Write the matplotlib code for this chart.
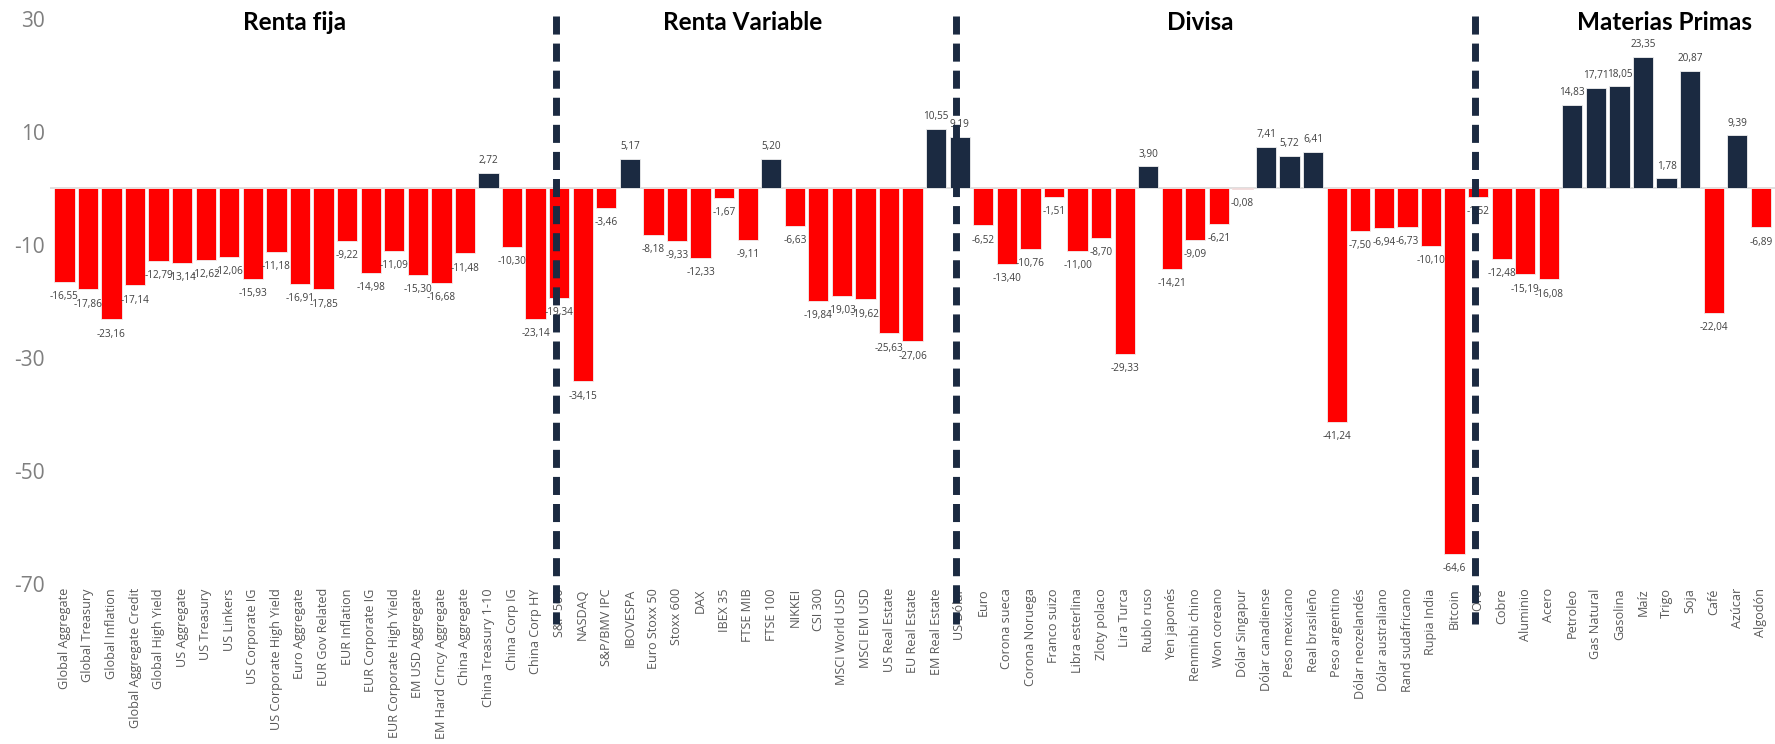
import matplotlib
matplotlib.use("Agg")
import matplotlib.pyplot as plt
import numpy as np

# data, grouped by asset class
renta_fija = ["Global Aggregate", "Global Treasury", "Global Inflation", "Global Aggregate Credit",
              "Global High Yield", "US Aggregate", "US Treasury", "US Linkers", "US Corporate IG",
              "US Corporate High Yield", "Euro Aggregate", "EUR Gov Related", "EUR Inflation",
              "EUR Corporate IG", "EUR Corporate High Yield", "EM USD Aggregate",
              "EM Hard Crncy Aggregate", "China Aggregate", "China Treasury 1-10", "China Corp IG",
              "China Corp HY"]
renta_fija_values = [-16.55, -17.86, -23.16, -17.14, -12.79, -13.14, -12.62, -12.06, -15.93,
                     -11.18, -16.91, -17.85, -9.22, -14.98, -11.09, -15.30, -16.68, -11.48,
                     2.72, -10.30, -23.14]

renta_variable = ["S&P 500", "NASDAQ", "S&P/BMV IPC", "IBOVESPA", "Euro Stoxx 50", "Stoxx 600",
                  "DAX", "IBEX 35", "FTSE MIB", "FTSE 100", "NIKKEI", "CSI 300", "MSCI World USD",
                  "MSCI EM USD", "US Real Estate", "EU Real Estate", "EM Real Estate"]
renta_variable_values = [-19.34, -34.15, -3.46, 5.17, -8.18, -9.33, -12.33, -1.67, -9.11, 5.20,
                         -6.63, -19.84, -19.03, -19.62, -25.63, -27.06, 10.55]

divisa = ["US Dólar", "Euro", "Corona sueca", "Corona Noruega", "Franco suizo", "Libra esterlina",
          "Zloty polaco", "Lira Turca", "Rublo ruso", "Yen japonés", "Renminbi chino",
          "Won coreano", "Dólar Singapur", "Dólar canadiense", "Peso mexicano", "Real brasileño",
          "Peso argentino", "Dólar neozelandés", "Dólar australiano", "Rand sudafricano",
          "Rupia India", "Bitcoin"]
divisa_values = [9.19, -6.52, -13.40, -10.76, -1.51, -11.00, -8.70, -29.33, 3.90, -14.21, -9.09,
                 -6.21, -0.08, 7.41, 5.72, 6.41, -41.24, -7.50, -6.94, -6.73, -10.10, -64.6]

materias_primas = ["Oro", "Cobre", "Aluminio", "Acero", "Petroleo", "Gas Natural", "Gasolina",
                   "Maíz", "Trigo", "Soja", "Café", "Azúcar", "Algodón"]
materias_primas_values = [-1.52, -12.48, -15.19, -16.08, 14.83, 17.71, 18.05, 23.35, 1.78, 20.87,
                          -22.04, 9.39, -6.89]

group_titles = ["Renta fija", "Renta Variable", "Divisa", "Materias Primas"]
label_override = {"Bitcoin": "-64,6"}

y_ticks = [30, 10, -10, -30, -50, -70]

NAVY = "#1b2a41"
RED = "#ff0000"


def main():
    """Draws the grouped returns bar chart and saves it as out.png."""
    groups = [renta_fija, renta_variable, divisa, materias_primas]
    group_values = [renta_fija_values, renta_variable_values, divisa_values, materias_primas_values]
    names = [n for g in groups for n in g]
    values = np.array([v for g in group_values for v in g])
    x = np.arange(len(names))

    fig = plt.figure(figsize=(17.75, 7.44), dpi=100)
    ax = fig.add_axes([0.0283, 0.215, 0.9717, 0.7595])

    colors = [NAVY if v > 0 else RED for v in values]
    ax.bar(x, values, width=0.86, color=colors, edgecolor="#f0f0f0", linewidth=0.6, zorder=2)
    ax.axhline(0, color="#d9d9d9", linewidth=1.2, zorder=1)

    # value labels just past the end of each bar
    for xi, name, v in zip(x, names, values):
        text = label_override.get(name, f"{v:.2f}".replace(".", ","))
        offset = 2.2 if v > 0 else -2.6
        ax.text(xi, v + offset, text, ha="center", va="center", fontsize=7.2,
                color="#404040", family="Open Sans", zorder=4)

    # dashed separators and group titles
    starts = np.cumsum([0] + [len(g) for g in groups])
    for s in starts[1:-1]:
        ax.plot([s - 0.15, s - 0.15], [30.5, -77], color=NAVY, linewidth=5,
                linestyle=(0, (2.6, 1.3)), clip_on=False, zorder=5)
    title_pos = [9.76, 28.8, 48.2, 67.9]
    for title, pos in zip(group_titles, title_pos):
        ax.text(pos, 29.4, title, ha="center", va="center", fontsize=17.5, fontweight="bold",
                family="Lato", color="black", zorder=6)

    ax.set_xlim(-0.6, len(names) - 0.4)
    ax.set_ylim(-70, 30)
    ax.set_yticks(y_ticks)
    ax.set_yticklabels([str(t) for t in y_ticks], fontsize=15, color="#7f7f7f", family="Open Sans")
    ax.set_xticks(x)
    ax.set_xticklabels(names, rotation=90, fontsize=9.1, color="#595959", family="Open Sans")
    ax.tick_params(axis="x", length=0, pad=3)
    ax.tick_params(axis="y", length=0, pad=4)
    for spine in ax.spines.values():
        spine.set_visible(False)

    fig.savefig("out.png", dpi=100)
    plt.close(fig)


if __name__ == "__main__":
    main()
